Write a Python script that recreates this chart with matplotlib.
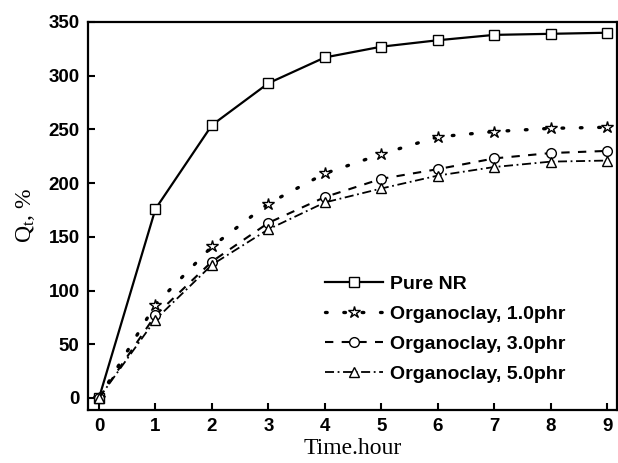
import matplotlib
matplotlib.use("Agg")
import matplotlib.pyplot as plt

# Data
time_h = [0, 1, 2, 3, 4, 5, 6, 7, 8, 9]
pure_nr = [0, 176, 254, 293, 317, 327, 333, 338, 339, 340]
clay_1 = [0, 87, 141, 181, 209, 227, 243, 248, 251, 252]
clay_3 = [0, 77, 127, 163, 187, 204, 213, 223, 228, 230]
clay_5 = [0, 73, 124, 157, 182, 195, 207, 215, 220, 221]

labels = ["Pure NR", "Organoclay, 1.0phr", "Organoclay, 3.0phr", "Organoclay, 5.0phr"]

plt.rcParams["mathtext.fontset"] = "custom"
plt.rcParams["mathtext.it"] = "Liberation Serif:italic"
plt.rcParams["mathtext.rm"] = "Liberation Serif"

fig = plt.figure(figsize=(6.18, 4.63), dpi=100)
ax = fig.add_axes([0.1424, 0.1145, 0.8556, 0.838])

mk = dict(markerfacecolor="white", markeredgecolor="black", markeredgewidth=1.0,
          markersize=7, color="black")

ax.plot(time_h, pure_nr, "-", marker="s", lw=1.6, label=labels[0], **mk)
ax.plot(time_h, clay_1, marker="*", lw=2.4, dashes=(0.5, 5),
        dash_capstyle="round", label=labels[1], **{**mk, "markersize": 9})
ax.plot(time_h, clay_3, marker="o", lw=1.5, dashes=(4, 4), label=labels[2], **mk)
ax.plot(time_h, clay_5, marker="^", lw=1.3, dashes=(5, 2, 1, 2), label=labels[3], **mk)

ax.set_xlim(-0.195, 9.17)
ax.set_ylim(-11.2, 350)
ax.set_xticks(range(0, 10))
ax.set_yticks(range(0, 351, 50))

for s in ax.spines.values():
    s.set_linewidth(1.6)
ax.tick_params(direction="in", length=5, width=1.5, top=False, right=False, pad=6)
for t in ax.get_xticklabels() + ax.get_yticklabels():
    t.set_fontfamily("Liberation Sans")
    t.set_fontweight("bold")
    t.set_fontsize(13.5)

ax.set_xlabel("Time.hour", fontfamily="Liberation Serif", fontsize=17, labelpad=2)
ax.set_ylabel(r"Q$_\mathrm{t}$, %", fontfamily="Liberation Serif", fontsize=17, labelpad=8)

leg = ax.legend(loc="upper left", bbox_to_anchor=(0.415, 0.392), frameon=False,
                numpoints=1, handlelength=3.0, handletextpad=0.35, labelspacing=0.64,
                prop={"family": "Liberation Sans", "weight": "bold", "size": 14})

fig.savefig("out.png", dpi=100)
